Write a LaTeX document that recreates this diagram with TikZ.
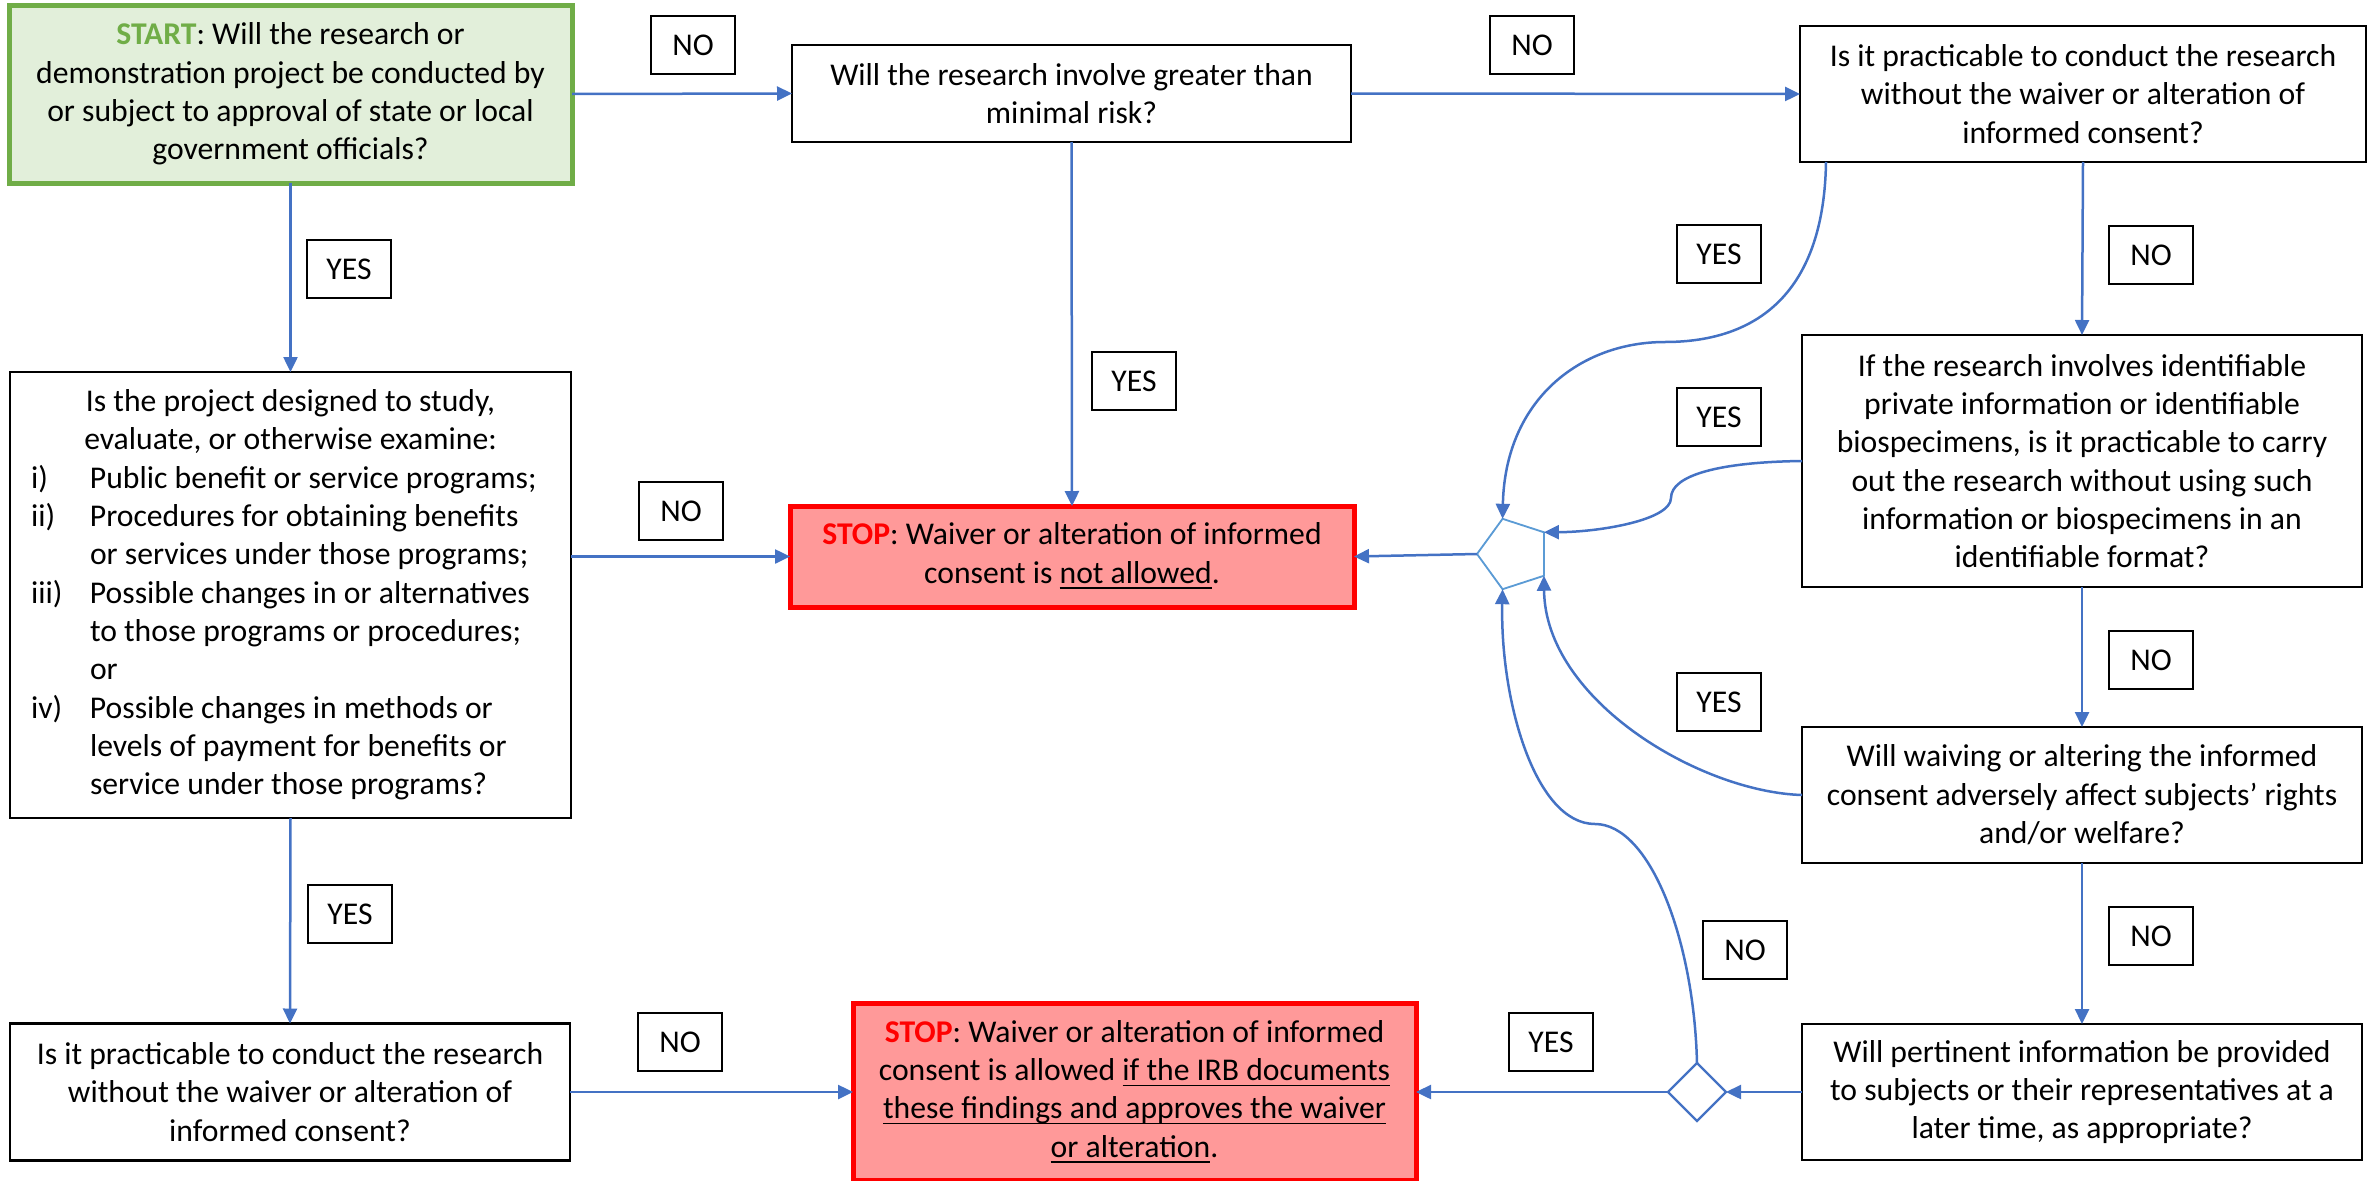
\documentclass[tikz,border=0pt]{standalone}
\usepackage{fontspec}
\setmainfont{Carlito}
\usetikzlibrary{arrows.meta,shapes.geometric,calc}
\definecolor{arrowblue}{HTML}{4472C4}
\definecolor{pentblue}{HTML}{5B9BD5}
\definecolor{startgreen}{HTML}{70AD47}
\definecolor{startfill}{HTML}{E2EFDA}
\definecolor{stopfill}{HTML}{FF9999}
\definecolor{stopred}{HTML}{FF0000}
\newcommand\myul[1]{\underline{\smash{#1}}}
\newcommand\lbl[1]{\makebox[17.7pt][l]{#1}}
\newcommand\ctr[1]{\makebox[155.7pt][c]{#1}}
\begin{document}
\begin{tikzpicture}[x=0.3pt,y=-0.3pt,
  every node/.style={font=\fontsize{9.5}{11.5}\selectfont},
  qbox/.style={draw=black, line width=0.65pt, fill=white, align=center, inner sep=0pt, outer sep=0pt},
  startbox/.style={qbox, draw=startgreen, fill=startfill, line width=1.5pt},
  stopbox/.style={qbox, draw=stopred, fill=stopfill, line width=1.5pt},
  tag/.style={draw=black, line width=0.6pt, fill=white, minimum width=25pt, minimum height=17.5pt, inner sep=0pt},
  conn/.style={draw=arrowblue, line width=0.75pt, -{Triangle[length=4.5pt,width=4.2pt]}},
]
\useasboundingbox (0,0) rectangle (2372,1181);

% main boxes
\node[startbox, minimum width=168.9pt, minimum height=53.4pt] (start) at (290.5,94)
  {\textcolor{startgreen}{\textbf{START}}: Will the research or\\demonstration project be conducted by\\or subject to approval of state or local\\government officials?};
\node[qbox, minimum width=167.7pt, minimum height=29.1pt] (q2) at (1071.5,93.5)
  {Will the research involve greater than\\minimal risk?};
\node[qbox, minimum width=169.8pt, minimum height=40.8pt] (q3) at (2083,94)
  {Is it practicable to conduct the research\\without the waiver or alteration of\\informed consent?};
\node[qbox, minimum width=168pt, minimum height=75.6pt] (q4) at (2082,461)
  {If the research involves identifiable\\private information or identifiable\\biospecimens, is it practicable to carry\\out the research without using such\\information or biospecimens in an\\identifiable format?};
\node[qbox, minimum width=168pt, minimum height=40.8pt] (q5) at (2082,795)
  {Will waiving or altering the informed\\consent adversely affect subjects’ rights\\and/or welfare?};
\node[qbox, minimum width=168pt, minimum height=40.8pt] (q7) at (2082,1092)
  {Will pertinent information be provided\\to subjects or their representatives at a\\later time, as appropriate?};
\node[qbox, align=left, inner xsep=6.3pt, minimum width=168.3pt, minimum height=133.8pt] (big) at (290.5,595)
  {\ctr{Is the project designed to study,}\\
   \ctr{evaluate, or otherwise examine:}\\
   \lbl{i)}Public benefit or service programs;\\
   \lbl{ii)}Procedures for obtaining benefits\\
   \lbl{}or services under those programs;\\
   \lbl{iii)}Possible changes in or alternatives\\
   \lbl{}to those programs or procedures;\\
   \lbl{}or\\
   \lbl{iv)}Possible changes in methods or\\
   \lbl{}levels of payment for benefits or\\
   \lbl{}service under those programs?};
\node[qbox, minimum width=168pt, minimum height=41.1pt] (q6) at (290,1092)
  {Is it practicable to conduct the research\\without the waiver or alteration of\\informed consent?};
\node[stopbox, minimum width=169.2pt, minimum height=30.3pt] (stop1) at (1072,556.5)
  {\textcolor{stopred}{\textbf{STOP}}: Waiver or alteration of informed\\consent is \myul{not allowed}.};
\node[stopbox, minimum width=168.9pt, minimum height=53.1pt] (stop2) at (1134.5,1092)
  {\textcolor{stopred}{\textbf{STOP}}: Waiver or alteration of informed\\consent is allowed \myul{if the IRB documents}\\\myul{these findings and approves the waiver}\\\myul{or alteration}.};

% junctions
\node[draw=pentblue, line width=0.55pt, regular polygon, regular polygon sides=5, shape border rotate=18,
      minimum size=22.2pt, inner sep=0pt, outer sep=0pt] (pent) at (1514,554) {};
\node[draw=arrowblue, line width=0.65pt, fill=white, diamond, aspect=1, minimum width=17.4pt, minimum height=17.4pt,
      inner sep=0pt, outer sep=0pt] (dia) at (1697,1092) {};

% YES / NO tags
\node[tag] (no1) at (693,45) {NO};
\node[tag] (no2) at (1532,45) {NO};
\node[tag] (yes1) at (349,269) {YES};
\node[tag] (yes2) at (1134,381) {YES};
\node[tag] (no3) at (681,511) {NO};
\node[tag] (yes3) at (1719,254) {YES};
\node[tag] (yes4) at (1719,417) {YES};
\node[tag] (yes5) at (1719,702) {YES};
\node[tag] (no4) at (2151,255) {NO};
\node[tag] (no5) at (2151,660) {NO};
\node[tag] (no6) at (2151,936) {NO};
\node[tag] (yes6) at (350,914) {YES};
\node[tag] (no7) at (680,1042) {NO};
\node[tag] (no8) at (1745,950) {NO};
\node[tag] (yes7) at (1551,1042) {YES};

% connectors
\draw[conn] (start.east) -- (q2.west);
\draw[conn] (q2.east) -- (q3.west);
\draw[conn] (start.south) -- (big.north);
\draw[conn] (q2.south) -- (stop1.north);
\draw[conn] (stop1.west -| big.east) -- (stop1.west);
\draw[conn] (pent.corner 2) -- (stop1.east);
\draw[conn] (big.south) -- (q6.north);
\draw[conn] (q6.east) -- (stop2.west);
\draw[conn] (q3.south) -- (q4.north);
\draw[conn] (q4.south) -- (q5.north);
\draw[conn] (q5.south) -- (q7.north);
\draw[conn] (q7.west) -- (dia.east);
\draw[conn] (dia.west) -- (stop2.east);

\draw[conn] ($(q3.south west)+(26,0)$) .. controls (1824,290) and (1760,342) .. (1665,342)
  .. controls (1580,342) and (1505,400) .. (pent.corner 1);
\draw[conn] (q4.west) .. controls (1720,462) and (1671,475) .. (1671,498)
  .. controls (1671,520) and (1600,532) .. (pent.corner 5);
\draw[conn] (q5.west) .. controls (1700,792) and (1545,700) .. (pent.corner 4);
\draw[conn] (dia.north) .. controls (1694,940) and (1650,824) .. (1595,824)
  .. controls (1535,824) and (1500,700) .. (pent.corner 3);
\end{tikzpicture}
\end{document}
